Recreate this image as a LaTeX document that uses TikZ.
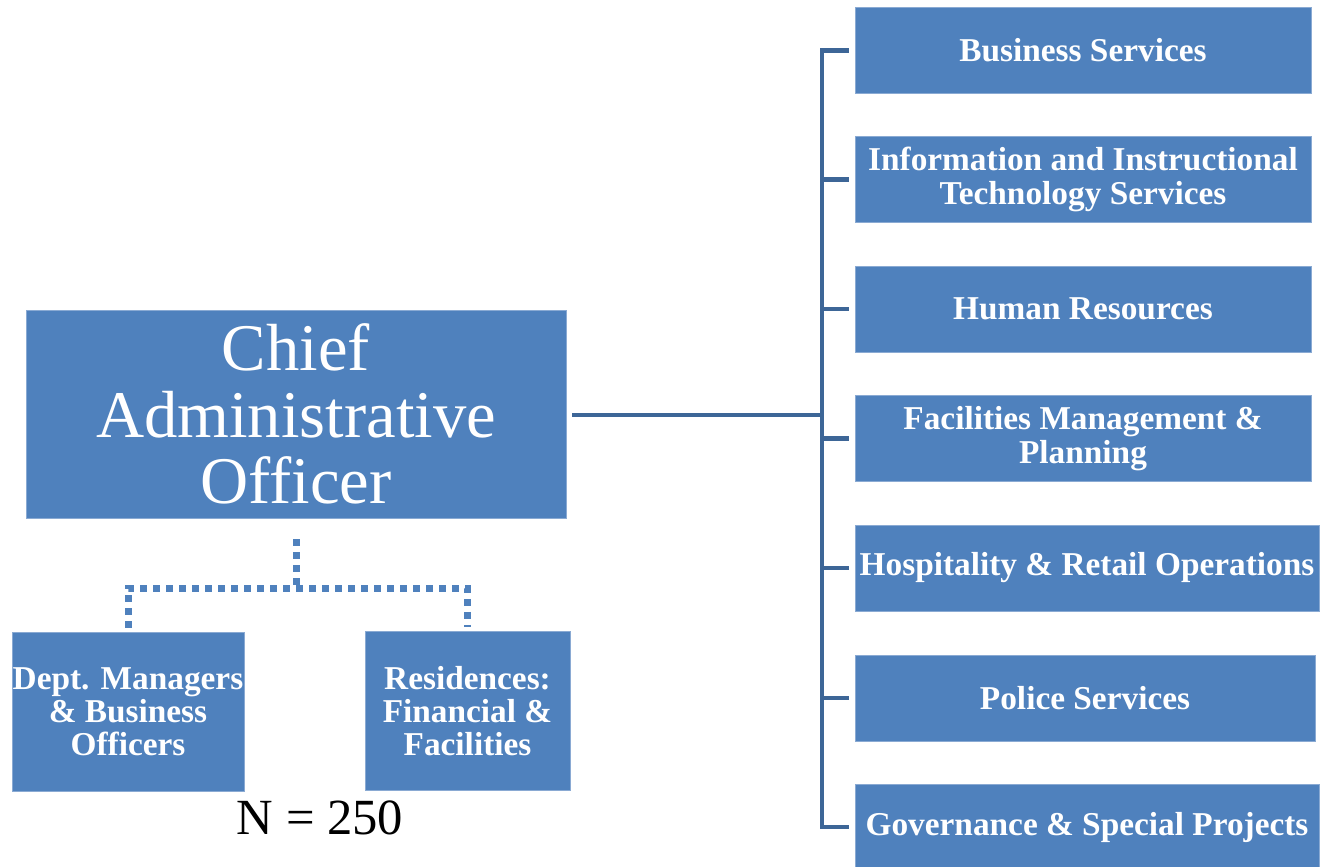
\documentclass[tikz,border=0pt]{standalone}
\usepackage{fontspec}
\setmainfont{Liberation Serif}
\definecolor{boxblue}{HTML}{4F81BD}
\definecolor{boxedge}{HTML}{8AAAD3}
\definecolor{linkblue}{HTML}{3D6697}
\begin{document}
\begin{tikzpicture}[x=0.75pt,y=-0.75pt,
  unitbox/.style={fill=boxblue, draw=boxedge, line width=0.6pt, text=white,
    font=\bfseries\fontsize{25}{25.5}\selectfont, align=center, inner sep=0pt,
    minimum height=64.5pt},
  caobox/.style={fill=boxblue, draw=boxedge, line width=0.6pt, text=white,
    font=\fontsize{50}{50}\selectfont, align=center, inner sep=0pt,
    minimum width=405pt, minimum height=156pt},
  sidebox/.style={fill=boxblue, draw=boxedge, line width=0.6pt, text=white,
    font=\bfseries\fontsize{25}{24.75}\selectfont, align=center, inner sep=0pt,
    minimum height=119.25pt},
  solidlink/.style={draw=linkblue, line width=3.4pt, line join=miter},
  dotlink/.style={draw=boxblue, line width=5.25pt, dash pattern=on 5.25pt off 4.5pt},
  countlabel/.style={font=\fontsize{38}{38}\selectfont, inner sep=0pt}]
\useasboundingbox (0,0) rectangle (1321,867);

% main box
\node[caobox] (cao) at (296,414) {Chief\\Administrative\\Officer};

% right column
\node[unitbox, minimum width=342pt] (biz) at (1083,50.5) {Business Services};
\node[unitbox, minimum width=342pt] (info) at (1083,179.5) {Information and Instructional\\Technology Services};
\node[unitbox, minimum width=342pt] (hr) at (1083,309) {Human Resources};
\node[unitbox, minimum width=342pt] (fac) at (1083,438.5) {Facilities Management \&\\Planning};
\node[unitbox, minimum width=348pt] (hosp) at (1087,568) {Hospitality \& Retail Operations};
\node[unitbox, minimum width=345pt] (pol) at (1085,698) {Police Services};
\node[unitbox, minimum width=348pt] (gov) at (1087,827) {Governance \& Special Projects};

% lower boxes
\node[sidebox, minimum width=174pt] (dept) at (128,711.5) {Dept. Managers\\\& Business\\Officers};
\node[sidebox, minimum width=153.75pt] (res) at (467.5,711) {Residences:\\Financial \&\\Facilities};
\node[countlabel] (count) at (320,818) {N = 250};

% solid connectors
\coordinate (hub) at (822,415);
\draw[solidlink] ([xshift=4.5pt]cao.east |- hub) -- (hub);
\draw[solidlink] ([xshift=-4.5pt]biz.west) -| (hub) |- ([xshift=-4.5pt]gov.west);
\draw[solidlink] (info.west -| hub) -- ([xshift=-4.5pt]info.west);
\draw[solidlink] (hr.west -| hub) -- ([xshift=-4.5pt]hr.west);
\draw[solidlink] (fac.west -| hub) -- ([xshift=-4.5pt]fac.west);
\draw[solidlink] (hosp.west -| hub) -- ([xshift=-4.5pt]hosp.west);
\draw[solidlink] (pol.west -| hub) -- ([xshift=-4.5pt]pol.west);

% dotted connectors
\coordinate (split) at (296,588);
\draw[dotlink] ([yshift=-15.75pt]cao.south) -- (split);
\draw[dotlink] ([yshift=3pt]dept.north) |- (split) -| ([yshift=3pt]res.north);
\end{tikzpicture}
\end{document}
